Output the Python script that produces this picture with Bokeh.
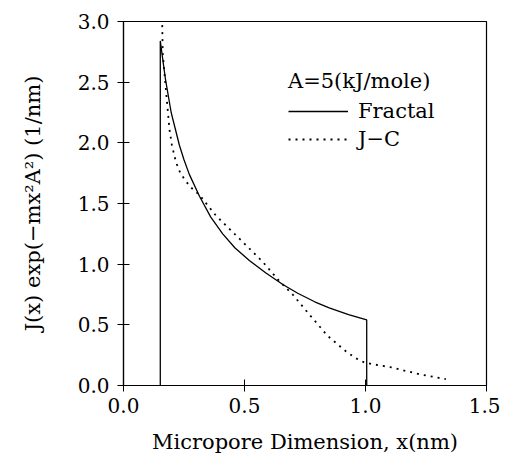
from bokeh.plotting import figure
from bokeh.models import Legend, LegendItem, FixedTicker, PrintfTickFormatter, Range1d
from bokeh.embed import file_html
from bokeh.resources import INLINE

# Fractal distribution (solid)
fractal_x = [0.152, 0.152, 0.16, 0.173, 0.197, 0.231, 0.25, 0.272, 0.314, 0.36, 0.41, 0.46, 0.52, 0.59, 0.66, 0.72, 0.79, 0.85, 0.93, 1.005, 1.005]
fractal_y = [0.0, 2.84, 2.72, 2.53, 2.25, 1.98, 1.86, 1.74, 1.56, 1.39, 1.25, 1.135, 1.03, 0.925, 0.83, 0.76, 0.69, 0.64, 0.585, 0.54, 0.0]

# J-C distribution (dotted)
jc_x = [0.16, 0.162, 0.176, 0.19, 0.2, 0.217, 0.235, 0.259, 0.285, 0.314, 0.382, 0.479, 0.575, 0.644, 0.699, 0.768, 0.843, 0.92, 0.96, 0.995, 1.04, 1.111, 1.222, 1.332]
jc_y = [2.97, 2.74, 2.42, 2.11, 1.98, 1.84, 1.75, 1.68, 1.62, 1.57, 1.40, 1.21, 1.02, 0.86, 0.75, 0.585, 0.41, 0.28, 0.225, 0.19, 0.172, 0.148, 0.093, 0.052]

x_ticks = [0.0, 0.5, 1.0, 1.5]
y_ticks = [0.0, 0.5, 1.0, 1.5, 2.0, 2.5, 3.0]

FONT = "DejaVu Serif"

p = figure(width=500, height=456, output_backend="svg", toolbar_location=None,
           x_range=Range1d(0, 1.5), y_range=Range1d(0, 3.0),
           min_border_left=123, min_border_right=14, min_border_top=21, min_border_bottom=65)

p.background_fill_color = "white"
p.border_fill_color = "white"
p.grid.visible = False
p.outline_line_color = "black"
p.outline_line_width = 1.2

r1 = p.line(fractal_x, fractal_y, line_color="black", line_width=1.3)
r2 = p.line(jc_x, jc_y, line_color="black", line_width=1.8, line_dash="2 5")

for ax in (p.xaxis[0], p.yaxis[0]):
    ax.axis_line_color = "black"
    ax.axis_line_width = 1.2
    ax.major_tick_line_color = "black"
    ax.major_tick_in = 6
    ax.major_tick_out = 6
    ax.minor_tick_line_color = None
    ax.major_label_text_font = FONT
    ax.major_label_text_font_size = "20px"
    ax.major_label_text_color = "black"
    ax.axis_label_text_font = FONT
    ax.axis_label_text_font_size = "21px"
    ax.axis_label_text_font_style = "normal"
    ax.axis_label_text_color = "black"
    ax.formatter = PrintfTickFormatter(format="%.1f")

p.xaxis[0].ticker = FixedTicker(ticks=x_ticks)
p.yaxis[0].ticker = FixedTicker(ticks=y_ticks)
p.xaxis[0].axis_label = "Micropore Dimension, x(nm)"
p.yaxis[0].axis_label = "J(x) exp(−mx²A²) (1/nm)"
p.xaxis[0].major_label_standoff = 6
p.yaxis[0].major_label_standoff = 8
p.xaxis[0].axis_label_standoff = 14
p.yaxis[0].axis_label_standoff = 30

legend = Legend(items=[LegendItem(label="Fractal", renderers=[r1]),
                       LegendItem(label="J−C", renderers=[r2])],
                location=(165, 234))
legend.title = "A=5(kJ/mole)"
legend.title_text_font = FONT
legend.title_text_font_size = "21px"
legend.title_text_font_style = "normal"
legend.title_text_color = "black"
legend.title_standoff = 6
legend.label_text_font = FONT
legend.label_text_font_size = "21px"
legend.label_text_color = "black"
legend.glyph_width = 60
legend.label_standoff = 10
legend.spacing = 4
legend.padding = 4
legend.margin = 0
legend.border_line_color = None
legend.background_fill_alpha = 0
p.add_layout(legend)

open("out.html", "w").write(file_html(p, INLINE))
